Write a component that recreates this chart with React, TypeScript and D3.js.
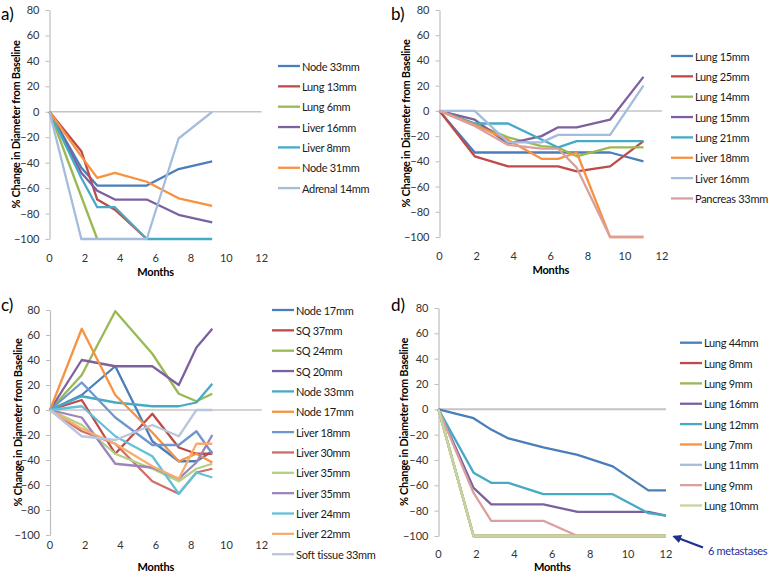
import React, { useRef, useEffect } from "react";
import * as d3 from "d3";

const yTicks = [80, 60, 40, 20, 0, -20, -40, -60, -80, -100];
const xTicks = [0, 2, 4, 6, 8, 10, 12];

// panel a)
const monthsA = [0, 1.8, 2.7, 3.7, 5.5, 7.3, 9.2];
const namesA = ["Node 33mm", "Lung 13mm", "Lung 6mm", "Liver 16mm", "Liver 8mm", "Node 31mm", "Adrenal 14mm"];
const valuesA = [
  [0, -44, -58, -58, -58, -45, -39],
  [0, -31, -69, -77, -100, null, null],
  [0, null, -100, null, null, null, null],
  [0, -48, -62, -69, -69, -81, -87],
  [0, -52, -75, -75, -100, -100, -100],
  [0, -35, -52, -48, -55, -68, -74],
  [0, -100, -100, -100, -100, -21, 0],
];

// panel b)
const monthsB = [0, 1.9, 3.7, 5.5, 6.4, 7.4, 9.2, 11.0];
const namesB = ["Lung 15mm", "Lung 25mm", "Lung 14mm", "Lung 15mm", "Lung 21mm", "Liver 18mm", "Liver 16mm", "Pancreas 33mm"];
const valuesB = [
  [0, -33, -33, -33, -33, -33, -33, -40],
  [0, -36, -44, -44, -44, -48, -44, -24],
  [0, -10, -21, -28, -29, -36, -29, -29],
  [0, -7, -26, -20, -13, -13, -7, 27],
  [0, -10, -10, null, -29, -24, -24, -24],
  [0, -11, -23, -38, -38, -33, -100, -100],
  [0, 0, -25, -25, -19, -19, -19, 20],
  [0, -12, -27, -30, -30, -45, -100, -100],
];

// panel c)
const monthsC = [0, 1.8, 3.7, 5.8, 7.3, 8.3, 9.2];
const namesC = [
  "Node 17mm", "SQ 37mm", "SQ 24mm", "SQ 20mm", "Node 33mm", "Node 17mm", "Liver 18mm",
  "Liver 30mm", "Liver 35mm", "Liver 35mm", "Liver 24mm", "Liver 22mm", "Soft tissue 33mm",
];
const valuesC = [
  [0, 12, 35, -25, -41, -41, -33],
  [0, 8, -35, -3, -30, -35, -35],
  [0, 28, 79, 45, 13, 7, 13],
  [0, 40, 35, 35, 20, 50, 65],
  [0, 11, 6, 3, 3, 6, 21],
  [0, 65, 12, -18, -41, -35, -42],
  [0, 22, -6, -28, -28, -17, -35],
  [0, -17, -27, -57, -67, -50, -47],
  [0, -12, -35, -47, -57, -47, -43],
  [0, -6, -43, -46, -55, -42, -20],
  [0, 3, -21, -37, -67, -50, -54],
  [0, -15, -27, -45, -55, -27, -27],
  [0, -21, -24, -12, -21, 0, 0],
];

// panel d)
const monthsD = [0, 1.85, 2.78, 3.69, 5.53, 7.34, 9.19, 11.07, 12];
const namesD = ["Lung 44mm", "Lung 8mm", "Lung 9mm", "Lung 16mm", "Lung 12mm", "Lung 7mm", "Lung 11mm", "Lung 9mm", "Lung 10mm"];
const valuesD = [
  [0, -7, -16, -23, -30, -36, -45, -64, -64],
  [0, -100, -100, -100, -100, -100, -100, -100, -100],
  [0, -100, -100, -100, -100, -100, -100, -100, -100],
  [0, -62, -75, -75, -75, -81, -81, -81, -84],
  [0, -50, -58, -58, -67, -67, -67, -82, -84],
  [0, -100, -100, -100, -100, -100, -100, -100, -100],
  [0, -100, -100, -100, -100, -100, -100, -100, -100],
  [0, -66, -88, -88, -88, -100, -100, -100, -100],
  [0, -100, -100, -100, -100, -100, -100, -100, -100],
];

const colorsLight = ["#4A7EBB", "#BE4B48", "#98B954", "#7D60A0", "#46AAC5", "#F69240", "#A5BCDC", "#D9A09E", "#C3D69B"];
const colorsC = [
  "#4A7EBB", "#BE4B48", "#98B954", "#7D60A0", "#46AAC5", "#F69240", "#6F97CC",
  "#CF6D6A", "#B5CF84", "#9B85BB", "#62C1D9", "#F7AD6E", "#B9C6DC",
];

const FONT = "Lato, 'Open Sans', sans-serif";

function drawPanel(svg, cfg) {
  const { months, names, values, colors, left, right, top, bottom, label, lx, ly, tickGap, monthsY, titleX, zeroW } = cfg;

  const x = d3.scaleLinear().domain([0, 12]).range([left, right]);
  const y = d3.scaleLinear().domain([-100, 80]).range([bottom, top]);
  const g = svg.append("g");

  // zero line (x axis)
  g.append("line")
    .attr("x1", x(0))
    .attr("x2", x(12))
    .attr("y1", y(0))
    .attr("y2", y(0))
    .attr("stroke", "#C4C4C4")
    .attr("stroke-width", zeroW);

  // y axis
  g.append("g")
    .attr("transform", `translate(${left},0)`)
    .call(d3.axisLeft(y).tickValues(yTicks).tickSize(4).tickSizeOuter(0).tickPadding(6))
    .call((a) => a.select(".domain").attr("stroke", "#BDBDBD").attr("stroke-width", 1.2))
    .call((a) => a.selectAll("line").attr("stroke", "#BDBDBD"))
    .call((a) =>
      a.selectAll("text")
        .attr("fill", "#333")
        .style("font-family", FONT)
        .style("font-size", "11px")
    );

  // x tick labels
  g.selectAll(".xt")
    .data(xTicks)
    .enter()
    .append("text")
    .attr("x", (d) => x(d))
    .attr("y", bottom + tickGap)
    .attr("text-anchor", "middle")
    .attr("dominant-baseline", "central")
    .attr("fill", "#333")
    .style("font-family", FONT)
    .style("font-size", "11px")
    .text((d) => d);

  // titles
  g.append("text")
    .attr("x", (left + right) / 2)
    .attr("y", monthsY)
    .attr("text-anchor", "middle")
    .attr("dominant-baseline", "central")
    .style("font-family", FONT)
    .style("font-size", "11px")
    .style("font-weight", "bold")
    .style("letter-spacing", "-0.2px")
    .text("Months");

  g.append("text")
    .attr("transform", `translate(${titleX},${(top + bottom) / 2}) rotate(-90)`)
    .attr("text-anchor", "middle")
    .attr("dominant-baseline", "central")
    .style("font-family", FONT)
    .style("font-size", "11px")
    .style("font-weight", "bold")
    .style("letter-spacing", "-0.3px")
    .text("% Change in Diameter from Baseline");

  g.append("text")
    .attr("x", label[0])
    .attr("y", label[1])
    .style("font-family", FONT)
    .style("font-size", "17px")
    .text(label[2]);

  // series
  const line = d3.line().x((d) => x(d[0])).y((d) => y(d[1]));
  values.forEach((vals, i) => {
    const pts = months.map((m, j) => [m, vals[j]]).filter((d) => d[1] != null);
    g.append("path")
      .attr("d", line(pts))
      .attr("fill", "none")
      .attr("stroke", colors[i])
      .attr("stroke-width", 2.3)
      .attr("stroke-linejoin", "round");
  });

  // legend
  const leg = g.append("g");
  names.forEach((n, i) => {
    const yy = ly + i * 20.35;
    leg.append("line")
      .attr("x1", lx)
      .attr("x2", lx + 22)
      .attr("y1", yy)
      .attr("y2", yy)
      .attr("stroke", colors[i])
      .attr("stroke-width", 2.3);
    leg.append("text")
      .attr("x", lx + 24)
      .attr("y", yy)
      .attr("dominant-baseline", "central")
      .attr("fill", "#1a1a1a")
      .style("font-family", FONT)
      .style("font-size", "11px")
      .style("letter-spacing", "-0.3px")
      .text(n);
  });

  return { x, y };
}

export default function App() {
  const svgRef = useRef(null);

  useEffect(() => {
    const svg = d3.select(svgRef.current);
    svg.selectAll("*").remove();

    drawPanel(svg, {
      months: monthsA, names: namesA, values: valuesA, colors: colorsLight,
      left: 49.5, right: 261.7, top: 10, bottom: 239, zeroW: 1.5,
      label: [1, 20, "a)"], lx: 278, ly: 66, tickGap: 18, monthsY: 271, titleX: 15,
    });
    drawPanel(svg, {
      months: monthsB, names: namesB, values: valuesB, colors: colorsLight,
      left: 439.5, right: 662, top: 10, bottom: 237, zeroW: 1.5,
      label: [391, 20, "b)"], lx: 671, ly: 56, tickGap: 18, monthsY: 269, titleX: 405,
    });
    drawPanel(svg, {
      months: monthsC, names: namesC, values: valuesC, colors: colorsC,
      left: 50, right: 261.7, top: 310, bottom: 535, zeroW: 1.5,
      label: [1, 311, "c)"], lx: 272, ly: 310, tickGap: 9, monthsY: 566, titleX: 17,
    });
    const d = drawPanel(svg, {
      months: monthsD, names: namesD, values: valuesD, colors: colorsLight,
      left: 438.5, right: 666, top: 308, bottom: 536, zeroW: 2,
      label: [391, 311, "d)"], lx: 680, ly: 342.7, tickGap: 17, monthsY: 566, titleX: 403,
    });

    // annotation
    const defs = svg.append("defs");
    defs.append("marker")
      .attr("id", "arr")
      .attr("viewBox", "0 0 10 10")
      .attr("refX", 8)
      .attr("refY", 5)
      .attr("markerWidth", 4)
      .attr("markerHeight", 4)
      .attr("orient", "auto")
      .append("path")
      .attr("d", "M0,0 L10,5 L0,10 Z")
      .attr("fill", "#1F2F8F");

    svg.append("line")
      .attr("x1", 703)
      .attr("y1", 547.5)
      .attr("x2", d.x(12) + 8)
      .attr("y2", d.y(-100) + 0.5)
      .attr("stroke", "#1F2F8F")
      .attr("stroke-width", 2.2)
      .attr("marker-end", "url(#arr)");

    svg.append("text")
      .attr("x", 708)
      .attr("y", 550)
      .attr("dominant-baseline", "central")
      .attr("fill", "#2B2B9C")
      .style("font-family", FONT)
      .style("font-size", "11px")
      .style("letter-spacing", "-0.3px")
      .text("6 metastases");
  }, []);

  return (
    <div style={{ position: "absolute", left: 0, top: 0, background: "#fff" }}>
      <svg ref={svgRef} width={774} height={575}></svg>
    </div>
  );
}
